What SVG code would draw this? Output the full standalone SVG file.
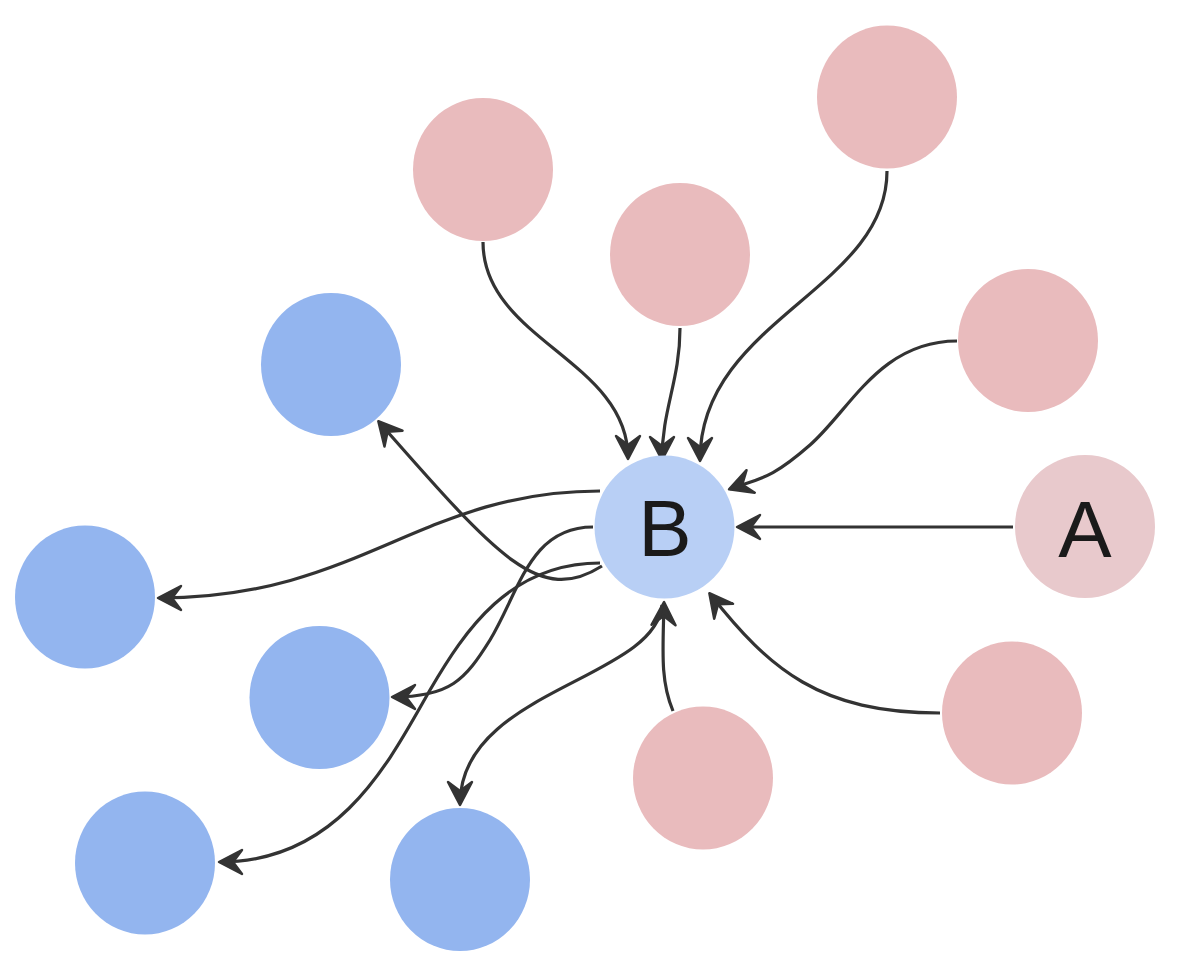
<svg xmlns="http://www.w3.org/2000/svg" width="1200" height="973" viewBox="0 0 1200 973">
<defs>
<style>
.pink{fill:#e9bbbd}
.a{fill:#e8c9cc}
.b{fill:#b8cff5}
.blue{fill:#93b5ef}
.edge{fill:none;stroke:#333;stroke-width:3.2;marker-end:url(#arr)}
.lbl{font-family:"Liberation Sans",Arial,sans-serif;font-size:80px;fill:#1a1a1a;text-anchor:middle}
</style>
<marker id="arr" markerUnits="userSpaceOnUse" markerWidth="30" markerHeight="30" viewBox="-27 -15 30 30" refX="0" refY="0" orient="auto">
<path d="M1,0 L-22,-12 L-13,0 L-22,12 Z" fill="#333" stroke="#333" stroke-width="2.5" stroke-linejoin="round"/>
</marker>
</defs>
<rect width="1200" height="973" fill="#fff"/>
<g id="connectors">
<path class="edge" d="M1013,527 L738,527"/>
<path class="edge" d="M957,341 C880,341 850,410 810,445 S760,478 730,489"/>
<path class="edge" d="M887,171 C887,290 700,320 700,460"/>
<path class="edge" d="M680,328 C680,380 662,410 662,459"/>
<path class="edge" d="M483,242 C483,340 628,360 628,458"/>
<path class="edge" d="M940,713 C820,713 770,670 710,594"/>
<path class="edge" d="M673,711 C660,680 663,650 664,603"/>
<path class="edge" d="M662,605 C655,680 460,690 460,804"/>
<path class="edge" d="M602,566 C540,605 500,560 379,422"/>
<path class="edge" d="M600,491 C420,491 360,598 159,598"/>
<path class="edge" d="M593,527 C530,527 520,590 490,640 C465,680 450,697 393,697"/>
<path class="edge" d="M600,563 C510,563 465,630 430,690 C390,760 340,862 220,862"/>
</g>
<g id="node-p1"><ellipse class="pink" cx="483" cy="169.5" rx="70" ry="71.5"/></g>
<g id="node-p2"><ellipse class="pink" cx="680" cy="254.5" rx="70" ry="71.5"/></g>
<g id="node-p3"><ellipse class="pink" cx="887" cy="97" rx="70" ry="71.5"/></g>
<g id="node-p4"><ellipse class="pink" cx="1028" cy="340.5" rx="70" ry="71.5"/></g>
<g id="node-p5"><ellipse class="pink" cx="1012" cy="713" rx="70" ry="71.5"/></g>
<g id="node-p6"><ellipse class="pink" cx="703" cy="778" rx="70" ry="71.5"/></g>
<g id="node-A"><ellipse class="a" cx="1085" cy="526.5" rx="70" ry="71.5"/><text class="lbl" x="1085" y="557">A</text></g>
<g id="node-B"><ellipse class="b" cx="664.5" cy="527" rx="70" ry="71.5"/><text class="lbl" x="665" y="556">B</text></g>
<g id="node-b1"><ellipse class="blue" cx="331" cy="364.5" rx="70" ry="71.5"/></g>
<g id="node-b2"><ellipse class="blue" cx="85" cy="597" rx="70" ry="71.5"/></g>
<g id="node-b3"><ellipse class="blue" cx="319.5" cy="697.5" rx="70" ry="71.5"/></g>
<g id="node-b4"><ellipse class="blue" cx="145" cy="863" rx="70" ry="71.5"/></g>
<g id="node-b5"><ellipse class="blue" cx="460" cy="879.5" rx="70" ry="71.5"/></g>
</svg>
